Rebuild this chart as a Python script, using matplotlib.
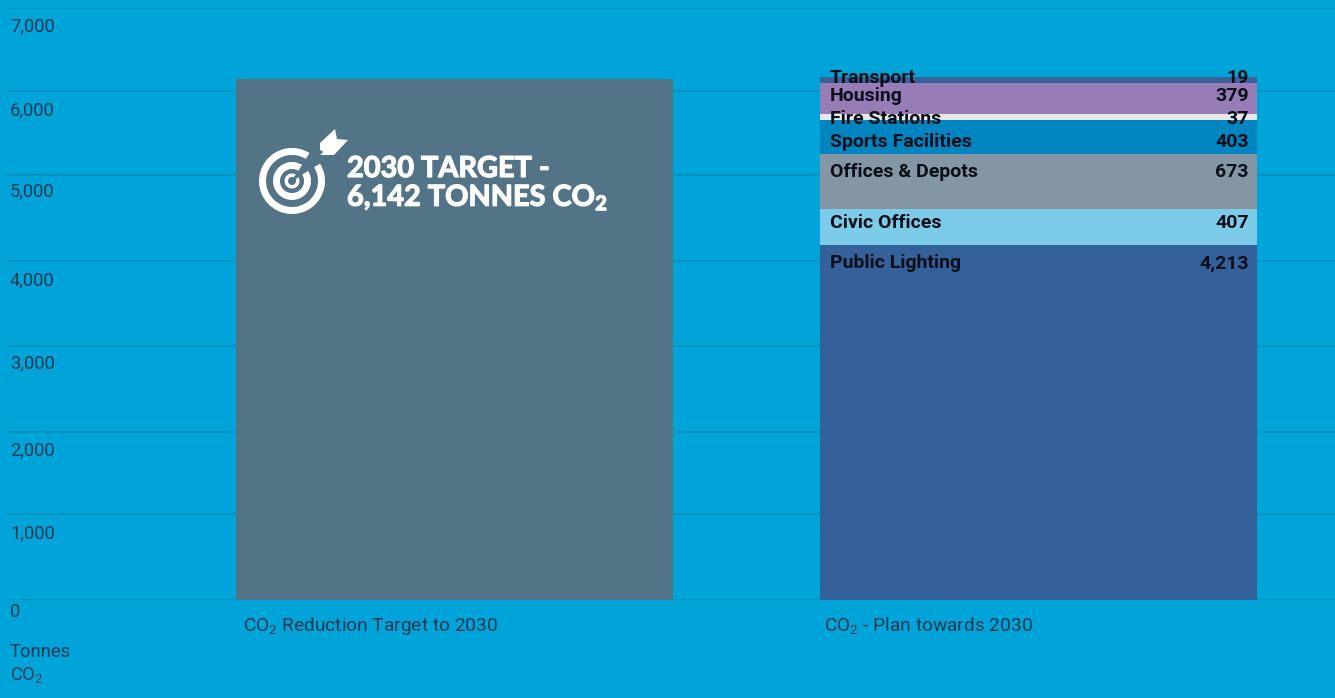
import matplotlib
matplotlib.use('Agg')
import matplotlib.pyplot as plt
import matplotlib.patheffects as pe
from matplotlib.patches import Wedge, Polygon

plt.rcParams['font.family'] = ['Roboto', 'DejaVu Sans']
plt.rcParams['mathtext.default'] = 'regular'

# Data
categories = ['CO$_2$ Reduction Target to 2030', 'CO$_2$ - Plan towards 2030']
target_height = 6160
segment_names = ['Public Lighting', 'Civic Offices', 'Offices & Depots', 'Sports Facilities',
                 'Fire Stations', 'Housing', 'Transport']
segment_labels = ['4,213', '407', '673', '403', '37', '379', '19']
# drawn heights (small ones are drawn taller than their label says)
segment_heights = [4198, 426, 650, 402, 71, 367, 71]
segment_colors = ['#35619A', '#7CCBE8', '#8495A3', '#0085C0', '#E8E8E8', '#9E7BB5', '#3A6299']
tick_labels = ['0', '1,000', '2,000', '3,000', '4,000', '5,000', '6,000', '7,000']
grid_levels = [0, 1017, 1986, 3003, 4009, 5025, 6019, 7000]

bg = '#00A4D8'
dark = '#0B3A55'
bar_grey = '#537386'

fig = plt.figure(figsize=(13.35, 6.98), dpi=100, facecolor=bg)
ax = fig.add_axes([6 / 1335, 98 / 698, 1329 / 1335, 592 / 698], facecolor=bg)

ax.set_xlim(-0.768, 1.5077)
ax.set_ylim(0, 7000)
for s in ax.spines.values():
    s.set_visible(False)
ax.set_xticks([])
ax.set_yticks([])
ax.hlines(grid_levels, -0.768, 1.5077, color='#008FBC', lw=1.2, zorder=1)

ax.bar(0, target_height, width=0.748, color=bar_grey, zorder=2)

bottom = 0
for h, c in zip(segment_heights, segment_colors):
    ax.bar(1, h, width=0.748, bottom=bottom, color=c, zorder=2, alpha=0.96 if c == '#9E7BB5' else 1)
    bottom += h

# overlay in pixel coordinates for text and the target icon
ov = fig.add_axes([0, 0, 1, 1], facecolor='none')
ov.set_xlim(0, 1335)
ov.set_ylim(698, 0)
ov.axis('off')

# text is placed by baseline, the bbox centre moves with descenders
tick_y = [617, 538, 455, 368, 285, 196, 115, 31]
for lab, y in zip(tick_labels, tick_y):
    ov.text(10, y, lab, fontsize=13.2, color=dark, va='baseline', ha='left')

ov.text(10, 657, 'Tonnes', fontsize=13.2, color=dark, va='baseline')
ov.text(10, 680, 'CO$_2$', fontsize=13.2, color=dark, va='baseline')
ov.text(243, 631, categories[0], fontsize=13.8, color=dark, va='baseline')
ov.text(824, 631, categories[1], fontsize=13.8, color=dark, va='baseline')

label_y = [268, 228, 177, 147, 124, 101, 83]
for name, lab, y in zip(segment_names, segment_labels, label_y):
    ov.text(830, y, name, fontsize=14, color='#0A0F1A', fontweight='bold', va='baseline')
    ov.text(1249, y, lab, fontsize=14, color='#0A0F1A', fontweight='bold', va='baseline', ha='right')

for y, line in [(177, '2030 TARGET -'), (206, '6,142 TONNES CO$_2$')]:
    t = ov.text(347, y, line, fontsize=20.8, color='white', fontweight='bold', va='baseline',
                family=['Lato', 'DejaVu Sans'])
    t.set_path_effects([pe.withStroke(linewidth=0.9, foreground='white')])

# target icon
cx, cy = 292, 181
for r, w in [(33, 7), (19, 7), (7.5, 3.5)]:
    ov.add_patch(Wedge((cx, cy), r, -32, 360 - 58, width=w, fc='white', ec='none'))
ov.plot([cx, 322], [cy, 151], color=bar_grey, lw=2.2, solid_capstyle='butt')
ov.add_patch(Polygon([(320, 143), (335, 129), (337, 139), (348, 140), (334, 155), (320, 155)],
                     fc='white', ec='none'))

fig.savefig('out.png', dpi=100, facecolor=bg)
